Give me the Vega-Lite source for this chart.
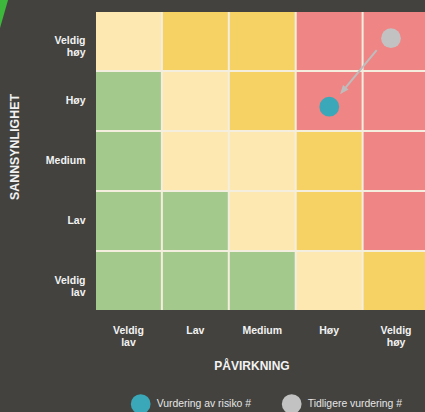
{
  "$schema": "https://vega.github.io/schema/vega-lite/v6.json",
  "autosize": {"type": "none"},
  "width": 332.5,
  "height": 298,
  "padding": {"left": 96, "top": 12, "right": 0, "bottom": 102},
  "background": "#43423e",
  "config": {
    "view": {"fill": "#f4eedf", "stroke": null},
    "font": "Liberation Sans",
    "axis": {
      "domain": false, "ticks": false, "tickSize": 0, "grid": false,
      "labelColor": "#f2f2f2", "labelFont": "Liberation Sans", "labelFontWeight": "bold",
      "labelFontSize": 10.5, "labelLineHeight": 12,
      "titleColor": "#f2f2f2", "titleFont": "Liberation Sans", "titleFontWeight": "bold", "titleFontSize": 12
    },
    "legend": {
      "labelColor": "#e6e6e6", "labelFont": "Liberation Sans", "labelFontSize": 10.4
    }
  },
  "datasets": {
    "cells": [
      {"pavirkning": "Veldig lav", "sannsynlighet": "Veldig høy", "niva": "moderat"},
      {"pavirkning": "Lav", "sannsynlighet": "Veldig høy", "niva": "høy"},
      {"pavirkning": "Medium", "sannsynlighet": "Veldig høy", "niva": "høy"},
      {"pavirkning": "Høy", "sannsynlighet": "Veldig høy", "niva": "kritisk"},
      {"pavirkning": "Veldig høy", "sannsynlighet": "Veldig høy", "niva": "kritisk"},
      {"pavirkning": "Veldig lav", "sannsynlighet": "Høy", "niva": "lav"},
      {"pavirkning": "Lav", "sannsynlighet": "Høy", "niva": "moderat"},
      {"pavirkning": "Medium", "sannsynlighet": "Høy", "niva": "høy"},
      {"pavirkning": "Høy", "sannsynlighet": "Høy", "niva": "kritisk"},
      {"pavirkning": "Veldig høy", "sannsynlighet": "Høy", "niva": "kritisk"},
      {"pavirkning": "Veldig lav", "sannsynlighet": "Medium", "niva": "lav"},
      {"pavirkning": "Lav", "sannsynlighet": "Medium", "niva": "moderat"},
      {"pavirkning": "Medium", "sannsynlighet": "Medium", "niva": "moderat"},
      {"pavirkning": "Høy", "sannsynlighet": "Medium", "niva": "høy"},
      {"pavirkning": "Veldig høy", "sannsynlighet": "Medium", "niva": "kritisk"},
      {"pavirkning": "Veldig lav", "sannsynlighet": "Lav", "niva": "lav"},
      {"pavirkning": "Lav", "sannsynlighet": "Lav", "niva": "lav"},
      {"pavirkning": "Medium", "sannsynlighet": "Lav", "niva": "moderat"},
      {"pavirkning": "Høy", "sannsynlighet": "Lav", "niva": "høy"},
      {"pavirkning": "Veldig høy", "sannsynlighet": "Lav", "niva": "kritisk"},
      {"pavirkning": "Veldig lav", "sannsynlighet": "Veldig lav", "niva": "lav"},
      {"pavirkning": "Lav", "sannsynlighet": "Veldig lav", "niva": "lav"},
      {"pavirkning": "Medium", "sannsynlighet": "Veldig lav", "niva": "lav"},
      {"pavirkning": "Høy", "sannsynlighet": "Veldig lav", "niva": "moderat"},
      {"pavirkning": "Veldig høy", "sannsynlighet": "Veldig lav", "niva": "høy"}
    ],
    "vurderinger": [
      {"type": "Vurdering av risiko #", "pavirkning_score": 4.008, "sannsynlighet_score": 3.911},
      {"type": "Tidligere vurdering #", "pavirkning_score": 4.936, "sannsynlighet_score": 5.06}
    ],
    "pil": [
      {"fra_x": 4.721, "fra_y": 4.862, "til_x": 4.256, "til_y": 4.235, "spiss_x": 4.213, "spiss_y": 4.178}
    ],
    "dekor": [
      {"y": 5.75, "x": -0.81, "x0": -0.96},
      {"y": 5.232, "x": -0.944, "x0": -0.96}
    ]
  },
  "resolve": {"scale": {"x": "independent", "y": "independent"}},
  "layer": [
    {
      "data": {"name": "cells"},
      "mark": {"type": "rect"},
      "encoding": {
        "x": {
          "field": "pavirkning", "type": "nominal",
          "sort": ["Veldig lav", "Lav", "Medium", "Høy", "Veldig høy"],
          "scale": {"paddingInner": 0.03, "paddingOuter": 0},
          "axis": {
            "title": "PÅVIRKNING", "labelAngle": 0, "labelBaseline": "middle", "labelAlign": "center",
            "labelPadding": 20, "labelExpr": "split(datum.value, ' ')",
            "titleX": 155.5, "titleY": 55, "titleBaseline": "middle", "titleAlign": "center"
          }
        },
        "y": {
          "field": "sannsynlighet", "type": "nominal",
          "sort": ["Veldig høy", "Høy", "Medium", "Lav", "Veldig lav"],
          "scale": {"paddingInner": 0.034, "paddingOuter": 0},
          "axis": {
            "title": "SANNSYNLIGHET", "labelAlign": "right", "labelBaseline": "middle",
            "labelPadding": 11, "labelExpr": "split(datum.value, ' ')",
            "titleX": -82, "titleY": 134.5, "titleAngle": 270, "titleBaseline": "middle", "titleAlign": "center",
            "titleFontSize": 12.4
          }
        },
        "fill": {
          "field": "niva", "type": "nominal",
          "scale": {"domain": ["lav", "moderat", "høy", "kritisk"], "range": ["#a3c98c", "#fde8b1", "#f5d263", "#ef8584"]},
          "legend": null
        }
      }
    },
    {
      "layer": [
        {
          "data": {"name": "dekor"},
          "mark": {"type": "area", "orient": "horizontal", "color": "#3db83d", "opacity": 1, "clip": false},
          "encoding": {
            "y": {"field": "y", "type": "quantitative", "scale": {"domain": [0.5, 5.5], "nice": false, "zero": false}, "axis": null},
            "x": {"field": "x", "type": "quantitative", "scale": {"domain": [0.5, 5.5], "nice": false, "zero": false}, "axis": null},
            "x2": {"field": "x0"}
          }
        },
        {
          "data": {"name": "pil"},
          "mark": {"type": "rule", "color": "#bdbdbd", "strokeWidth": 2},
          "encoding": {
            "x": {"field": "fra_x", "type": "quantitative", "scale": {"domain": [0.5, 5.5], "nice": false, "zero": false}, "axis": null},
            "y": {"field": "fra_y", "type": "quantitative", "scale": {"domain": [0.5, 5.5], "nice": false, "zero": false}, "axis": null},
            "x2": {"field": "til_x"},
            "y2": {"field": "til_y"}
          }
        },
        {
          "data": {"name": "pil"},
          "mark": {"type": "point", "shape": "M0,-1L0.8,1L-0.8,1Z", "filled": true, "fill": "#bdbdbd", "opacity": 1, "size": 81, "angle": 219.6, "strokeWidth": 0},
          "encoding": {
            "x": {"field": "spiss_x", "type": "quantitative", "scale": {"domain": [0.5, 5.5], "nice": false, "zero": false}, "axis": null},
            "y": {"field": "spiss_y", "type": "quantitative", "scale": {"domain": [0.5, 5.5], "nice": false, "zero": false}, "axis": null}
          }
        },
        {
          "data": {"name": "vurderinger"},
          "mark": {"type": "point", "filled": true, "opacity": 1, "size": 390, "strokeWidth": 0, "shape": "circle"},
          "encoding": {
            "x": {"field": "pavirkning_score", "type": "quantitative", "scale": {"domain": [0.5, 5.5], "nice": false, "zero": false}, "axis": null},
            "y": {"field": "sannsynlighet_score", "type": "quantitative", "scale": {"domain": [0.5, 5.5], "nice": false, "zero": false}, "axis": null},
            "color": {
              "field": "type", "type": "nominal",
              "scale": {"domain": ["Vurdering av risiko #", "Tidligere vurdering #"], "range": ["#3aa8b8", "#c2c2c2"]},
              "legend": {
                "title": null, "orient": "none", "legendX": 34.7, "legendY": 382,
                "direction": "horizontal", "columns": 2, "columnPadding": 30, "padding": 0,
                "symbolType": "circle", "symbolSize": 390, "symbolStrokeWidth": 0, "symbolOpacity": 1,
                "labelOffset": 6
              }
            }
          }
        }
      ]
    }
  ]
}
